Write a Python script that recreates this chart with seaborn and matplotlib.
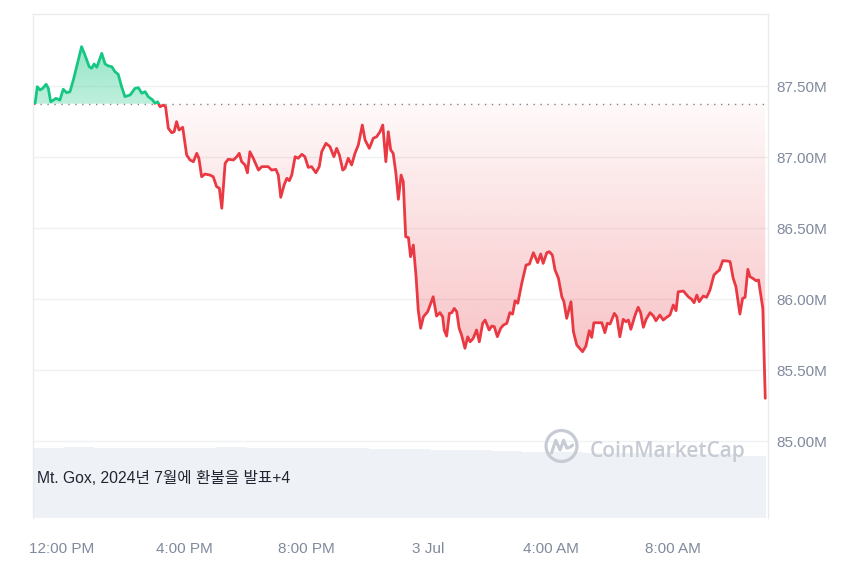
import numpy as np
import matplotlib
matplotlib.use("Agg")
import matplotlib.pyplot as plt
import seaborn as sns
from matplotlib.patches import Rectangle, Circle, PathPatch
from matplotlib.path import Path
from matplotlib.colors import to_rgb

# ---------------- data ----------------
# time in hours since 2 Jul 00:00 (24 = 3 Jul 00:00)
hours = [
    11.12, 11.19, 11.28, 11.37, 11.48, 11.55, 11.63, 11.72, 11.80, 11.93,
    12.04, 12.15, 12.26, 12.37, 12.48, 12.64, 12.75, 12.89, 12.97, 13.05,
    13.14, 13.30, 13.41, 13.52, 13.63, 13.73, 13.84, 13.95, 14.06, 14.23,
    14.39, 14.50, 14.61, 14.72, 14.82, 14.97, 15.04, 15.13, 15.21, 15.32,
    15.39, 15.48, 15.59, 15.67, 15.75, 15.83, 15.95, 16.08, 16.19, 16.30,
    16.41, 16.48, 16.57, 16.68, 16.84, 16.95, 17.06, 17.15, 17.23, 17.34,
    17.44, 17.61, 17.72, 17.80, 17.88, 17.99, 18.07, 18.15, 18.26, 18.43,
    18.54, 18.75, 18.86, 19.00, 19.08, 19.16, 19.27, 19.36, 19.44, 19.52,
    19.63, 19.73, 19.85, 19.95, 20.06, 20.17, 20.31, 20.42, 20.50, 20.64,
    20.77, 20.90, 20.99, 21.08, 21.19, 21.26, 21.37, 21.48, 21.59, 21.70,
    21.83, 21.92, 22.06, 22.19, 22.30, 22.41, 22.50, 22.60, 22.68, 22.76,
    22.84, 22.93, 23.01, 23.10, 23.17, 23.25, 23.34, 23.41, 23.50, 23.59,
    23.66, 23.74, 23.83, 23.97, 24.05, 24.15, 24.26, 24.37, 24.46, 24.51,
    24.59, 24.68, 24.76, 24.84, 24.92, 25.00, 25.08, 25.19, 25.28, 25.36,
    25.46, 25.57, 25.66, 25.77, 25.85, 25.98, 26.07, 26.15, 26.25, 26.36,
    26.45, 26.56, 26.66, 26.75, 26.83, 26.92, 27.05, 27.19, 27.30, 27.43,
    27.57, 27.67, 27.75, 27.87, 27.95, 28.05, 28.14, 28.25, 28.36, 28.43,
    28.52, 28.66, 28.74, 28.85, 29.04, 29.15, 29.26, 29.34, 29.41, 29.67,
    29.77, 29.85, 29.94, 30.08, 30.16, 30.26, 30.37, 30.46, 30.54, 30.62,
    30.76, 30.86, 30.94, 31.03, 31.12, 31.25, 31.36, 31.44, 31.57, 31.68,
    31.79, 31.90, 32.01, 32.10, 32.17, 32.34, 32.50, 32.61, 32.69, 32.78,
    32.86, 32.99, 33.10, 33.21, 33.34, 33.43, 33.52, 33.63, 33.76, 33.87,
    33.97, 34.06, 34.19, 34.28, 34.36, 34.45, 34.52, 34.61, 34.72, 34.80,
    34.85, 34.94, 35.02,
]
# market cap, millions USD
price = [
    87.378, 87.495, 87.472, 87.484, 87.512, 87.484, 87.389, 87.401, 87.413, 87.401,
    87.477, 87.453, 87.460, 87.542, 87.636, 87.777, 87.718, 87.636, 87.625, 87.655,
    87.632, 87.730, 87.655, 87.641, 87.636, 87.601, 87.582, 87.495, 87.425, 87.437,
    87.484, 87.488, 87.449, 87.460, 87.425, 87.401, 87.378, 87.389, 87.354, 87.366,
    87.354, 87.202, 87.171, 87.178, 87.249, 87.190, 87.209, 87.014, 86.979, 86.967,
    87.026, 86.991, 86.861, 86.880, 86.873, 86.861, 86.791, 86.780, 86.639, 86.956,
    86.984, 86.979, 87.002, 87.026, 86.967, 86.944, 86.889, 87.037, 86.991, 86.908,
    86.932, 86.932, 86.908, 86.913, 86.873, 86.716, 86.803, 86.850, 86.833, 86.873,
    87.002, 86.991, 87.019, 87.002, 86.927, 86.932, 86.889, 86.932, 87.037, 87.096,
    87.073, 87.002, 87.061, 87.014, 86.908, 86.920, 86.991, 86.944, 87.026, 87.085,
    87.225, 87.120, 87.061, 87.132, 87.143, 87.178, 87.225, 86.967, 87.178, 87.049,
    87.026, 86.885, 86.702, 86.873, 86.826, 86.439, 86.432, 86.298, 86.380, 86.157,
    85.923, 85.794, 85.875, 85.911, 85.958, 86.016, 85.880, 85.904, 85.875, 85.782,
    85.739, 85.899, 85.904, 85.934, 85.911, 85.794, 85.746, 85.653, 85.734, 85.699,
    85.723, 85.782, 85.699, 85.829, 85.852, 85.782, 85.810, 85.805, 85.735, 85.794,
    85.817, 85.829, 85.904, 85.894, 85.988, 85.970, 86.111, 86.239, 86.246, 86.326,
    86.256, 86.317, 86.251, 86.326, 86.333, 86.310, 86.204, 86.146, 86.016, 85.981,
    85.864, 85.981, 85.770, 85.676, 85.629, 85.669, 85.777, 85.730, 85.833, 85.833,
    85.763, 85.829, 85.824, 85.899, 85.875, 85.734, 85.857, 85.840, 85.852, 85.787,
    85.887, 85.942, 85.904, 85.801, 85.857, 85.904, 85.880, 85.847, 85.887, 85.852,
    85.871, 85.887, 85.958, 85.918, 86.051, 86.056, 86.016, 85.998, 85.974, 86.028,
    85.981, 86.021, 86.012, 86.063, 86.169, 86.188, 86.204, 86.270, 86.268, 86.263,
    86.146, 86.087, 85.894, 86.005, 86.012, 86.209, 86.157, 86.146, 86.129, 86.134,
    86.063, 85.934, 85.301,
]
open_price = 87.375

# hourly volume bars (relative units)
vol_hours = [11.55, 12.55, 13.55, 14.55, 15.55, 16.55, 17.55, 18.55, 19.55, 20.55,
             21.55, 22.55, 23.55, 24.55, 25.55, 26.55, 27.55, 28.55, 29.55, 30.55,
             31.55, 32.55, 33.55, 34.55]
volume = [13.9, 14.1, 13.9, 13.9, 13.9, 13.9, 14.1, 13.9, 13.9, 13.9,
          13.9, 13.7, 13.7, 13.5, 13.5, 13.3, 13.1, 13.1, 12.9, 12.9,
          12.9, 12.7, 12.7, 12.3]

ytick_vals = [85.0, 85.5, 86.0, 86.5, 87.0, 87.5]
ytick_labels = ["85.00M", "85.50M", "86.00M", "86.50M", "87.00M", "87.50M"]
xtick_hours = [12, 16, 20, 24, 28, 32]
xtick_labels = ["12:00 PM", "4:00 PM", "8:00 PM", "3 Jul", "4:00 AM", "8:00 AM"]
annotation = "Mt. Gox, 2024년 7월에 환불을 발표+4"
watermark = "CoinMarketCap"

# ---------------- style ----------------
sns.set_theme(style="white")
plt.rcParams["font.family"] = ["Liberation Sans", "Noto Sans CJK KR", "DejaVu Sans"]

RED = "#ea3943"
GREEN = "#16c784"
LABEL = "#808a9d"
XMIN, XMAX = 11.05, 35.11
YMIN, YMAX = 84.458, 88.007

fig = plt.figure(figsize=(8.6, 5.73), dpi=100)
rect = [33 / 860, 1 - 518 / 573, 735 / 860, 504 / 573]
ax2 = fig.add_axes(rect)
ax = fig.add_axes(rect)
ax.patch.set_visible(False)

# volume
ax2.bar(vol_hours, volume, width=1.0, color="#eef1f5", linewidth=0)
ax2.set_xlim(XMIN, XMAX)
ax2.set_ylim(0, 100)
ax2.axis("off")

h = np.array(hours)
p = np.array(price)

# gradient fills
def gradient_fill(mask, y0, y1, color, a0, a1, ya, yb):
    coll = ax.fill_between(h, p, open_price, where=mask, interpolate=True,
                           facecolor="none", edgecolor="none")
    path = Path.make_compound_path(*coll.get_paths())
    r, g, b = to_rgb(color)
    ys = np.linspace(y0, y1, 256)
    alpha = np.interp(ys, [ya, yb], [a0, a1])
    img = np.zeros((256, 1, 4))
    img[..., 0], img[..., 1], img[..., 2] = r, g, b
    img[:, 0, 3] = alpha
    im = ax.imshow(img, extent=[XMIN, XMAX, y0, y1], origin="lower",
                   aspect="auto", zorder=1, interpolation="bilinear")
    patch = PathPatch(path, transform=ax.transData, facecolor="none", edgecolor="none")
    ax.add_patch(patch)
    im.set_clip_path(patch)

gradient_fill(p <= open_price, YMIN, open_price, RED, 0.30, 0.03, 85.6, open_price)
gradient_fill(p >= open_price, open_price, YMAX, GREEN, 0.28, 0.45, open_price, 87.78)

# lines (green above the open, red below)
sns.lineplot(x=h, y=p, ax=ax, color=GREEN, linewidth=2.0, sort=False,
             estimator=None, zorder=3)
gl = ax.lines[-1]
gl.set_clip_path(Rectangle((XMIN, open_price), XMAX - XMIN, YMAX - open_price,
                           transform=ax.transData))
sns.lineplot(x=h, y=p, ax=ax, color=RED, linewidth=2.0, sort=False,
             estimator=None, zorder=3)
rl = ax.lines[-1]
rl.set_clip_path(Rectangle((XMIN, YMIN), XMAX - XMIN, open_price - YMIN,
                           transform=ax.transData))
for ln in (gl, rl):
    ln.set_solid_joinstyle("round")
    ln.set_solid_capstyle("round")

ax.axhline(open_price, color="#7d8592", linewidth=1.0, linestyle=(0, (1, 4)), zorder=2)

ax.set_xlim(XMIN, XMAX)
ax.set_ylim(YMIN, YMAX)
ax.set_yticks(ytick_vals)
ax.set_yticklabels(ytick_labels)
ax.set_xticks(xtick_hours)
ax.set_xticklabels(xtick_labels)
ax.yaxis.tick_right()
ax.tick_params(axis="y", length=0, pad=6, labelsize=11, labelcolor=LABEL)
ax.tick_params(axis="x", length=0, pad=17, labelsize=11, labelcolor=LABEL)
ax.set_xlabel("")
ax.set_ylabel("")
ax.grid(axis="y", color="#eff1f4", linewidth=1.0)
ax.grid(axis="x", visible=False)
ax.set_axisbelow(True)
for side in ("left", "top", "right"):
    ax.spines[side].set_color("#e9ebef")
    ax.spines[side].set_linewidth(1.0)
ax.spines["bottom"].set_visible(False)

# annotation inside the volume area
ax.text(4 / 735, (518 - 478) / 504, annotation, transform=ax.transAxes,
        fontsize=11.3, color="#222531", va="center", ha="left", zorder=5,
        family=["Liberation Sans", "Noto Sans CJK KR"])

# watermark
WM = "#c6cbd4"
fig.text(590 / 860, 1 - 457 / 573, watermark, fontsize=15, color=WM,
         family=["Open Sans", "DejaVu Sans"], fontweight="semibold",
         va="baseline", ha="left")
lax = fig.add_axes([543.5 / 860, 1 - 464 / 573, 36 / 860, 36 / 573])
lax.set_xlim(-1, 1)
lax.set_ylim(-1, 1)
lax.set_aspect("equal")
lax.axis("off")
lax.add_patch(Circle((0, 0), 0.86, fill=False, ec=WM, lw=2.3))
lax.plot([-0.55, -0.32, -0.08, 0.12, 0.3, 0.5, 0.62],
         [-0.38, 0.32, -0.22, 0.32, -0.12, -0.05, 0.05],
         color=WM, lw=2.2, solid_joinstyle="round", solid_capstyle="round")

fig.savefig("out.png", dpi=100, facecolor="white")
